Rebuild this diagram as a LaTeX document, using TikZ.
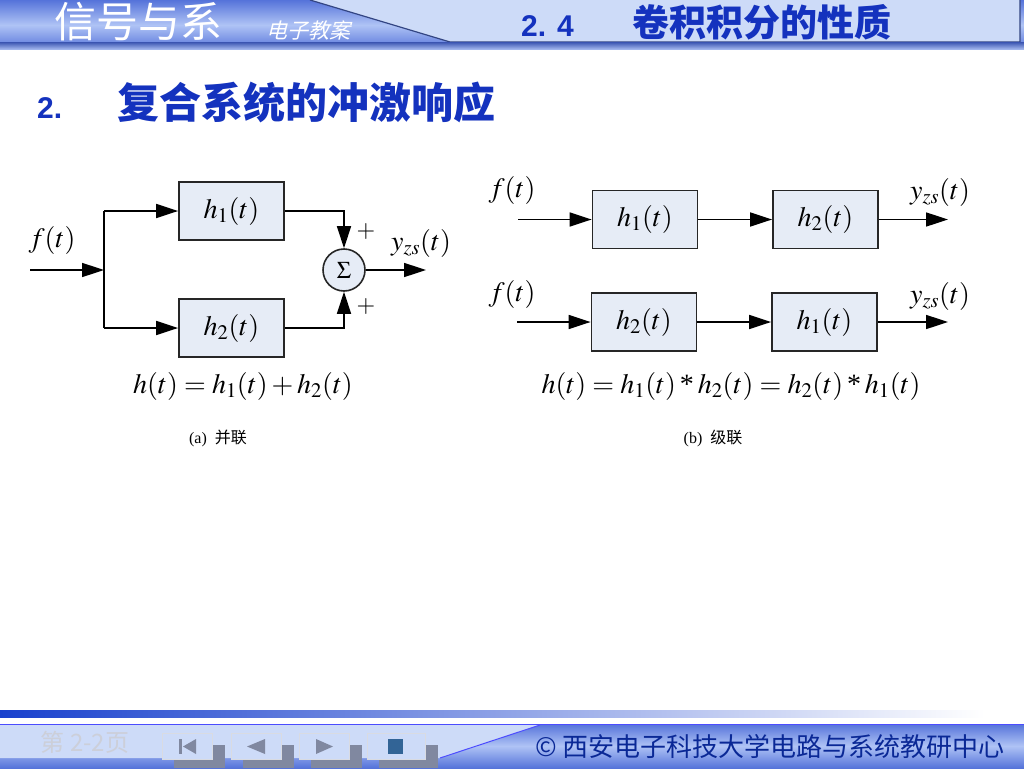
\documentclass[tikz,border=0pt]{standalone}
\usepackage{mathptmx}
\usepackage{fontspec}
\setmainfont{Liberation Serif}
\newfontfamily\cjk{Noto Sans CJK SC}
\newfontfamily\cjkslant[FakeSlant=0.25]{Noto Sans CJK SC}
\newfontfamily\arialfont{Liberation Sans}
\usetikzlibrary{arrows.meta,positioning}

\definecolor{boxfill}{RGB}{230,236,246}
\definecolor{hdrblue}{RGB}{85,115,218}
\definecolor{hdrlight}{RGB}{175,195,245}
\definecolor{panel}{RGB}{205,219,248}
\definecolor{titleblue}{RGB}{20,50,190}
\definecolor{stripblue}{RGB}{25,65,205}
\definecolor{navgray}{RGB}{128,136,160}
\definecolor{navsq}{RGB}{50,100,150}
\definecolor{footblue}{RGB}{10,40,150}

\newcommand{\conv}{\mathbin{\mbox{*}}}

\begin{document}
\begin{tikzpicture}[x=1pt,y=-1pt,>={Triangle[length=22pt,width=14pt]},
  sysbox/.style={draw=black!85,line width=1.8pt,fill=boxfill,minimum width=105pt,minimum height=58pt,font=\fontsize{28}{32}\selectfont},
  sumnode/.style={draw=black!85,line width=1.6pt,circle,fill=boxfill,minimum size=42pt,inner sep=0pt,font=\fontsize{24}{26}\selectfont},
  sig/.style={line width=1.6pt},
  lbl/.style={font=\fontsize{28}{32}\selectfont,inner sep=1pt},
  sgn/.style={font=\fontsize{24}{26}\selectfont,inner sep=0pt},
  captext/.style={font=\fontsize{16}{18}\selectfont}]
\useasboundingbox (0,0) rectangle (1024,768);
\fill[white] (0,0) rectangle (1024,768);

% header
\shade[top color=hdrblue,bottom color=hdrblue,middle color=hdrlight] (0,0) rectangle (1024,50);
\fill[panel] (310,0) -- (450,42) -- (1020,42) -- (1020,0) -- cycle;
\draw[hdrblue!60!black,line width=1.2pt] (310,0) -- (450,42) -- (1020,42) -- (1020,0);
\shade[top color=hdrblue!85!black,bottom color=hdrlight] (0,43) rectangle (1024,50);
\node[text=white,font=\cjk\fontsize{42}{44}\selectfont] (hdrname) at (138,22) {信号与系};
\node[text=white,font=\cjkslant\fontsize{21}{24}\selectfont] (hdrsub) at (308,30) {电子教案};
\node[anchor=west,text=titleblue,inner sep=0pt] (sectitle) at (521,22)
  {{\arialfont\bfseries\fontsize{30}{32}\selectfont 2.\hspace{11pt}4}\hspace{59pt}{\cjk\bfseries\fontsize{37}{40}\selectfont 卷积积分的性质}};
\node[anchor=west,text=titleblue,inner sep=0pt] (subtitle) at (37,102)
  {{\arialfont\bfseries\fontsize{30}{32}\selectfont 2.}\hspace{55pt}{\cjk\bfseries\fontsize{42}{44}\selectfont 复合系统的冲激响应}};

% (a) parallel
\node[sysbox] (pa1) at (231.5,211) {$h_1(t)$};
\node[sysbox] (pa2) at (231.5,328) {$h_2(t)$};
\node[sumnode] (sum) at (344,270) {$\Sigma$};
\coordinate (fin) at (30,270);
\coordinate (fork) at (104,270);
\coordinate (yout) at (426,270);
\draw[sig,->] (fin) -- (fork);
\draw[sig] (fork |- pa1) -- (fork |- pa2);
\draw[sig,->] (fork |- pa1) -- (pa1.west);
\draw[sig,->] (fork |- pa2) -- (pa2.west);
\draw[sig,->] (pa1.east) -| (sum.north);
\draw[sig,->] (pa2.east) -| (sum.south);
\draw[sig,->] (sum.east) -- (yout);
\node[lbl] (fa) at (52,240) {$f(t)$};
\node[lbl] (ya) at (421,243) {$y_{zs}(t)$};
\node[sgn] (plusup) at (366,232) {$+$};
\node[sgn] (plusdn) at (366,307) {$+$};
\node[lbl] (eqa) at (243,386) {$h(t)=h_1(t)+h_2(t)$};
\node[captext] (capa) at (218,438) {(a)\ \ {\cjk 并联}};

% (b) cascade
\node[sysbox] (s1a) at (645,219.5) {$h_1(t)$};
\node[sysbox] (s1b) at (825.5,219.5) {$h_2(t)$};
\node[sysbox] (s2a) at (644,322) {$h_2(t)$};
\node[sysbox] (s2b) at (824.5,322) {$h_1(t)$};
\coordinate (in1) at (518,219.5);
\coordinate (out1) at (948,219.5);
\coordinate (in2) at (517,322);
\coordinate (out2) at (948,322);
\draw[sig,->] (in1) -- (s1a.west);
\draw[sig,->] (s1a.east) -- (s1b.west);
\draw[sig,->] (s1b.east) -- (out1);
\draw[sig,->] (in2) -- (s2a.west);
\draw[sig,->] (s2a.east) -- (s2b.west);
\draw[sig,->] (s2b.east) -- (out2);
\node[lbl] (fb1) at (512,190) {$f(t)$};
\node[lbl] (fb2) at (512,294) {$f(t)$};
\node[lbl] (yb1) at (940,192) {$y_{zs}(t)$};
\node[lbl] (yb2) at (940,296) {$y_{zs}(t)$};
\node[lbl] (eqb) at (731,386) {$h(t)=h_1(t)\conv h_2(t)=h_2(t)\conv h_1(t)$};
\node[captext] (capb) at (713,438) {(b)\ \ {\cjk 级联}};

% footer
\shade[left color=stripblue,right color=white] (0,710) rectangle (985,717);
\shade[top color=hdrblue,bottom color=hdrblue,middle color=hdrlight] (0,724) rectangle (1024,768);
\fill[panel] (0,725) -- (540,725) -- (440,758) -- (0,758) -- cycle;
\draw[blue!70!white,line width=1pt] (0,724.5) -- (1024,724.5);
\draw[blue!70!white,line width=1pt] (540,725) -- (440,758);
\node[text=white!60!navgray,font=\cjk\fontsize{24}{26}\selectfont] (pageno) at (85,742) {第 2-2页};
\foreach \bx/\bw in {162/50,231/50,299/50,367/58} {
  \fill[navgray] (\bx+12,745) rectangle (\bx+\bw+13,768);
  \fill[panel] (\bx,733) rectangle (\bx+\bw,759);
  \draw[white!70!navgray,line width=0.8pt] (\bx,733) rectangle (\bx+\bw,759);
}
\fill[navgray] (179,739) rectangle (182,754);
\fill[navgray] (183,746.5) -- (196,739) -- (196,754) -- cycle;
\fill[navgray] (247,746.5) -- (265,739) -- (265,754) -- cycle;
\fill[navgray] (333,746.5) -- (316,739) -- (316,754) -- cycle;
\fill[navsq] (388,739) rectangle (403,754);
\node[text=footblue,font=\cjk\fontsize{26}{28}\selectfont] (copyright) at (770,747) {© 西安电子科技大学电路与系统教研中心};
\end{tikzpicture}
\end{document}
